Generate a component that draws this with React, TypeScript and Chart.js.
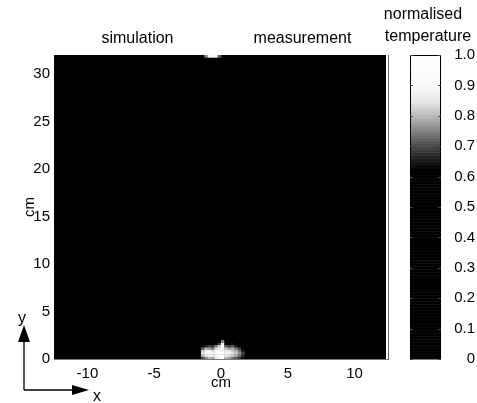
import React, { useEffect, useRef } from "react";
import { Chart, registerables } from "chart.js";

Chart.register(...registerables);

// ---------- data ----------
const xRange = [-12.5, 12.5];
const yRange = [0, 32];
const xTicks = [-10, -5, 0, 5, 10];
const yTicks = [0, 5, 10, 15, 20, 25, 30];
const cbTicks = [0, 0.1, 0.2, 0.3, 0.4, 0.5, 0.6, 0.7, 0.8, 0.9, 1.0];
const cbTickLabels = ["0", "0.1", "0.2", "0.3", "0.4", "0.5", "0.6", "0.7", "0.8", "0.9", "1.0"];
const panelTitles = ["simulation", "measurement"];
const cbTitleLines = ["normalised", "temperature"];
const axisTitle = "cm";

// hot spot at the bottom around x = 0 (cells 0.25 cm x 0.25 cm)
const hotColsX = [-1.375, -1.125, -0.875, -0.625, -0.375, -0.125, 0.125, 0.375, 0.625, 0.875, 1.125, 1.375, 1.625];
const hotRowsY = [0.125, 0.375, 0.625, 0.875, 1.125, 1.375, 1.625, 1.875];
const hotValues = [
  [0.70, 0.76, 0.80, 0.78, 0.86, 0.90, 0.95, 0.80, 0.78, 0.74, 0.72, 0.68, 0.64],
  [0.80, 0.86, 0.90, 0.87, 0.92, 0.95, 1.00, 0.88, 0.84, 0.82, 0.79, 0.74, 0.67],
  [0.85, 0.90, 0.93, 0.90, 0.95, 0.97, 1.00, 0.90, 0.89, 0.85, 0.82, 0.77, 0.70],
  [0.82, 0.88, 0.90, 0.85, 0.92, 0.95, 1.00, 0.87, 0.86, 0.82, 0.80, 0.74, 0.66],
  [0.72, 0.80, 0.78, 0.75, 0.85, 0.90, 0.98, 0.82, 0.78, 0.80, 0.75, 0.70, 0.62],
  [0.60, 0.66, 0.70, 0.68, 0.75, 0.82, 0.95, 0.72, 0.70, 0.72, 0.66, 0.62, 0.55],
  [0.50, 0.55, 0.60, 0.58, 0.62, 0.70, 0.88, 0.62, 0.60, 0.64, 0.58, 0.50, 0.45],
  [0.40, 0.45, 0.50, 0.48, 0.50, 0.55, 0.75, 0.50, 0.48, 0.52, 0.45, 0.40, 0.35],
];
// small warm patch at the top edge
const topColsX = [-1.125, -0.875, -0.625, -0.375, -0.125];
const topRowY = 31.875;
const topValues = [0.75, 0.9, 0.95, 0.9, 0.72];

// grey colormap (as it appears in the scan)
const cmapStops = [0, 0.62, 0.66, 0.70, 0.75, 0.80, 0.85, 0.90, 1.0];
const cmapGrays = [0, 0, 30, 70, 130, 185, 230, 250, 255];

const CELL_W = 0.25;
const CELL_H = 0.25;
const FONT = "'Liberation Sans', Arial, Helvetica, sans-serif";

function gray(v: number): string {
  let g = 0;
  if (v <= cmapStops[0]) g = cmapGrays[0];
  else if (v >= cmapStops[cmapStops.length - 1]) g = cmapGrays[cmapGrays.length - 1];
  else {
    for (let i = 0; i < cmapStops.length - 1; i++) {
      if (v >= cmapStops[i] && v <= cmapStops[i + 1]) {
        const t = (v - cmapStops[i]) / (cmapStops[i + 1] - cmapStops[i]);
        g = cmapGrays[i] + t * (cmapGrays[i + 1] - cmapGrays[i]);
        break;
      }
    }
  }
  const c = Math.round(g);
  return `rgb(${c},${c},${c})`;
}

type Cell = { x: number; y: number; v: number };
const cells: Cell[] = [];
hotRowsY.forEach((yy, r) => hotColsX.forEach((xx, c) => cells.push({ x: xx, y: yy, v: hotValues[r][c] })));
topColsX.forEach((xx, c) => cells.push({ x: xx, y: topRowY, v: topValues[c] }));

const heatmapPlugin = {
  id: "heatmap",
  beforeDatasetsDraw(chart: any) {
    const { ctx, chartArea, scales } = chart;
    const xs = scales.x, ys = scales.y;
    ctx.save();
    ctx.beginPath();
    ctx.rect(chartArea.left, chartArea.top, chartArea.right - chartArea.left, chartArea.bottom - chartArea.top);
    ctx.clip();
    ctx.fillStyle = gray(0);
    ctx.fillRect(chartArea.left, chartArea.top, chartArea.right - chartArea.left - 2, chartArea.bottom - chartArea.top);
    const data = chart.data.datasets[0].data as Cell[];
    for (const d of data) {
      const x0 = xs.getPixelForValue(d.x - CELL_W / 2);
      const x1 = xs.getPixelForValue(d.x + CELL_W / 2);
      const y0 = ys.getPixelForValue(d.y + CELL_H / 2);
      const y1 = ys.getPixelForValue(d.y - CELL_H / 2);
      ctx.fillStyle = gray(d.v);
      ctx.fillRect(x0, y0, x1 - x0 + 0.3, y1 - y0 + 0.3);
    }
    ctx.restore();
  },
  afterDraw(chart: any) {
    const { ctx, scales } = chart;
    const xs = scales.x, cs = scales.c;
    ctx.save();
    // panel titles
    ctx.fillStyle = "#000";
    ctx.font = `16px ${FONT}`;
    ctx.textAlign = "center";
    ctx.textBaseline = "alphabetic";
    ctx.fillText(panelTitles[0], xs.getPixelForValue((xRange[0] + 0) / 2), 43);
    ctx.fillText(panelTitles[1], xs.getPixelForValue((0 + xRange[1]) / 2) - 2, 43);

    // colour bar
    const cbL = 410, cbR = 441;
    const n = 200;
    for (let i = 0; i < n; i++) {
      const v0 = i / n, v1 = (i + 1) / n;
      const yA = cs.getPixelForValue(v1);
      const yB = cs.getPixelForValue(v0);
      ctx.fillStyle = gray((v0 + v1) / 2);
      ctx.fillRect(cbL, yA, cbR - cbL, yB - yA + 0.5);
    }
    ctx.strokeStyle = "#000";
    ctx.lineWidth = 1;
    ctx.strokeRect(cbL + 0.5, cs.getPixelForValue(1) + 0.5, cbR - cbL - 1, cs.getPixelForValue(0) - cs.getPixelForValue(1) - 1);
    ctx.strokeStyle = "#444";
    for (const t of cbTicks) {
      const py = Math.round(cs.getPixelForValue(t)) + 0.5;
      ctx.beginPath();
      ctx.moveTo(cbL, py); ctx.lineTo(cbL + 3, py);
      ctx.moveTo(cbR, py); ctx.lineTo(cbR - 3, py);
      ctx.stroke();
    }
    ctx.fillStyle = "#000";
    ctx.font = `16px ${FONT}`;
    ctx.textAlign = "center";
    ctx.fillText(cbTitleLines[0], 423, 19);
    ctx.fillText(cbTitleLines[1], 428, 41);

    // coordinate arrows
    ctx.strokeStyle = "#000";
    ctx.fillStyle = "#000";
    ctx.lineWidth = 1.3;
    const ox = 24, oy = 390;
    ctx.beginPath();
    ctx.moveTo(ox, oy); ctx.lineTo(ox, 338);
    ctx.moveTo(ox, oy); ctx.lineTo(76, oy);
    ctx.stroke();
    ctx.beginPath();
    ctx.moveTo(ox, 325); ctx.lineTo(ox - 6, 342); ctx.lineTo(ox + 6, 342); ctx.closePath(); ctx.fill();
    ctx.beginPath();
    ctx.moveTo(89, oy); ctx.lineTo(72, oy - 5); ctx.lineTo(72, oy + 5); ctx.closePath(); ctx.fill();
    ctx.font = `16px ${FONT}`;
    ctx.textAlign = "center";
    ctx.textBaseline = "alphabetic";
    ctx.fillText("y", 22, 323);
    ctx.fillText("x", 97, 401);
    ctx.restore();
  },
};

export default function App() {
  const ref = useRef<HTMLCanvasElement | null>(null);
  useEffect(() => {
    if (!ref.current) return;
    const tickFont = { family: FONT, size: 15 };
    const chart = new Chart(ref.current, {
      type: "scatter",
      data: {
        datasets: [
          { label: "temperature", data: cells as any, pointRadius: 0, pointHoverRadius: 0, showLine: false },
        ],
      },
      options: {
        animation: false,
        responsive: true,
        maintainAspectRatio: false,
        events: [],
        layout: { padding: { left: 21, right: 2, top: 55, bottom: 11 } },
        plugins: { legend: { display: false }, tooltip: { enabled: false }, title: { display: false } },
        scales: {
          x: {
            type: "linear",
            min: xRange[0],
            max: xRange[1],
            afterBuildTicks: (s: any) => { s.ticks = xTicks.map((v) => ({ value: v })); },
            afterFit: (s: any) => { s.height = 33; s.paddingLeft = 0; s.paddingRight = 0; },
            grid: { display: false, drawTicks: false },
            border: { display: true, color: "#777", dash: [2, 1] },
            ticks: { padding: 6, color: "#000", font: tickFont, maxRotation: 0, autoSkip: false },
            title: { display: true, text: axisTitle, padding: 0, color: "#000", font: tickFont },
          },
          y: {
            type: "linear",
            position: "left",
            min: yRange[0],
            max: yRange[1],
            afterBuildTicks: (s: any) => { s.ticks = yTicks.map((v) => ({ value: v })); },
            afterFit: (s: any) => { s.width = 33; s.paddingTop = 0; s.paddingBottom = 0; },
            grid: { display: false, drawTicks: false },
            border: { display: false },
            ticks: { padding: 4, color: "#000", font: tickFont, autoSkip: false },
            title: { display: true, text: axisTitle, padding: 0, color: "#000", font: tickFont },
          },
          c: {
            type: "linear",
            position: "right",
            min: 0,
            max: 1,
            afterBuildTicks: (s: any) => { s.ticks = cbTicks.map((v) => ({ value: v })); },
            afterFit: (s: any) => { s.width = 87; s.paddingTop = 0; s.paddingBottom = 0; },
            grid: { display: false, drawTicks: false },
            border: { display: true, color: "#666", dash: [3, 2] },
            ticks: {
              padding: 66,
              crossAlign: "far",
              color: "#000",
              font: { family: FONT, size: 15 },
              autoSkip: false,
              callback: (_v: any, i: number) => cbTickLabels[i],
            },
          },
        },
      },
      plugins: [heatmapPlugin],
    } as any);
    return () => chart.destroy();
  }, []);
  return (
    <div style={{ position: "absolute", left: 0, top: 0, width: 477, height: 403, background: "#fff" }}>
      <canvas ref={ref} />
    </div>
  );
}
